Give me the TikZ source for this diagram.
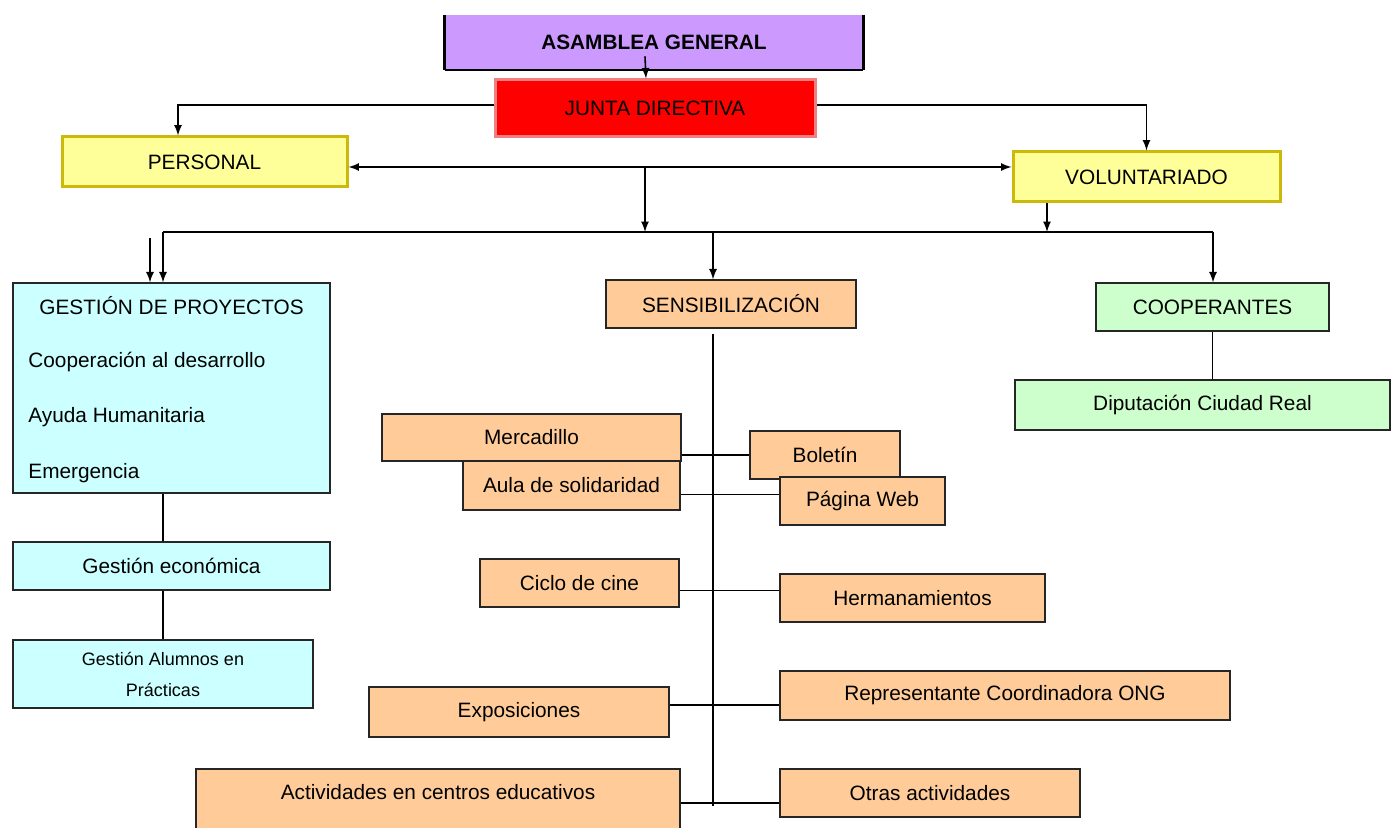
\documentclass[tikz,border=0pt]{standalone}
\usepackage{fontspec}
\setmainfont{Liberation Sans}
\definecolor{asamPurple}{HTML}{CC99FF}
\definecolor{juntaRed}{HTML}{FF0000}
\definecolor{juntaEdge}{HTML}{F08080}
\definecolor{staffYellow}{HTML}{FFFF99}
\definecolor{staffEdge}{HTML}{CDB90A}
\definecolor{projCyan}{HTML}{CCFFFF}
\definecolor{sensPeach}{HTML}{FFCC99}
\definecolor{coopGreen}{HTML}{CCFFCC}
\tikzset{
    boxSize/.style 2 args={minimum width=#1*0.5pt, minimum height=#2*0.5pt},
    orgText/.style={font=\fontsize{10.4}{12.5}\selectfont},
    orgBox/.style={draw=black!85, line width=0.6pt, inner sep=0pt, orgText},
    staffBox/.style={draw=staffEdge, line width=1.5pt, fill=staffYellow, inner sep=0pt, orgText},
    projBox/.style={orgBox, fill=projCyan},
    sensBox/.style={orgBox, fill=sensPeach},
    coopBox/.style={orgBox, fill=coopGreen},
    link/.style={line width=0.8pt}
}
\begin{document}
\begin{tikzpicture}[x=0.5pt,y=-0.5pt,>=latex]
		\useasboundingbox (0,0) rectangle (1392,828);
		% governing bodies
		\node[fill=asamPurple, inner sep=0pt, boxSize={418}{55}, font=\fontsize{10.4}{12.5}\selectfont\bfseries] (asam) at (654,42.5) {ASAMBLEA GENERAL};
		\draw[line width=1.5pt] (asam.north west) -- (asam.south west);
		\draw[line width=1.5pt] (asam.north east) -- (asam.south east);
		\draw[line width=1pt] (asam.south west) -- (asam.south east);
		\node[fill=juntaRed, draw=juntaEdge, line width=1.5pt, inner sep=0pt, boxSize={320}{57}, orgText] (junta) at (655,108.5) {JUNTA DIRECTIVA};
		\node[staffBox, boxSize={285}{50}] (personal) at (204.5,162) {PERSONAL};
		\node[staffBox, boxSize={267}{50}] (volunt) at (1146.5,177) {VOLUNTARIADO};
		% areas
		\node[projBox, boxSize={317}{210}] (gest) at (171.5,388) {};
		\node[orgText, inner sep=0pt] (gestTitle) at (171.5,306) {GESTIÓN DE PROYECTOS};
		\node[orgText, inner sep=0pt, anchor=west] (gestCoop) at (28,362) {Cooperación al desarrollo};
		\node[orgText, inner sep=0pt, anchor=west] (gestAyuda) at (28,417) {Ayuda Humanitaria};
		\node[orgText, inner sep=0pt, anchor=west] (gestEmerg) at (28,473) {Emergencia};
		\node[projBox, boxSize={317}{48}] (econ) at (171.5,566) {Gestión económica};
		\node[projBox, boxSize={300}{68}, align=center, font=\fontsize{9}{15.5}\selectfont] (alumnos) at (163,674) {Gestión Alumnos en\\Prácticas};
		\node[sensBox, boxSize={250}{48}] (sens) at (731,304) {SENSIBILIZACIÓN};
		\node[coopBox, boxSize={233}{48}] (coop) at (1212.5,307) {COOPERANTES};
		\node[coopBox, boxSize={375}{50}] (diput) at (1202.5,405) {Diputación Ciudad Real};
		% activities
		\node[sensBox, boxSize={299}{47}] (merca) at (531.5,437.5) {Mercadillo};
		\node[sensBox, boxSize={217}{49}] (aula) at (571.5,485.5) {Aula de solidaridad};
		\node[sensBox, boxSize={150}{48}] (boletin) at (825,455) {Boletín};
		\node[sensBox, boxSize={165}{48}] (web) at (862.5,501) {Página Web};
		\node[sensBox, boxSize={199}{48}] (cine) at (579.5,583) {Ciclo de cine};
		\node[sensBox, boxSize={265}{48}] (herman) at (912.5,598) {Hermanamientos};
		\node[sensBox, boxSize={300}{50}] (expo) at (519,712) {Exposiciones};
		\node[sensBox, boxSize={450}{49}] (coordina) at (1005,695.5) {Representante Coordinadora ONG};
		\node[sensBox, boxSize={484}{70}, text depth=12pt] (centros) at (438,804) {Actividades en centros educativos};
		\node[sensBox, boxSize={300}{48}] (otras) at (930,793) {Otras actividades};
		% connectors
		\coordinate (hub) at (645,167);
		\coordinate (busL) at (163,232);
		\coordinate (busL2) at (150,238);
		\coordinate (busR) at (1213,232);
		\coordinate (spine) at (713,806);
		\draw[link,->] ([xshift=-4.5pt,yshift=7pt]asam.south) -- ([xshift=-4.5pt]junta.north);
		\draw[link,->] ([yshift=1.75pt]junta.west) -| ([xshift=-13.25pt]personal.north);
		\draw[link,->] ([yshift=1.75pt]junta.east) -| (volunt.north);
		\draw[link,<->] (personal.east |- hub) -- (volunt.west |- hub);
		\draw[link,->] (hub) -- (hub |- busL);
		\draw[link] (busL) -- (busR);
		\draw[link,->] ([xshift=-49.75pt]volunt.south) -- ([xshift=-49.75pt]volunt.south |- busL);
		\draw[link,->] (busL) -- (busL |- gest.north);
		\draw[link,->] (busL2) -- (busL2 |- gest.north);
		\draw[link,->] (spine |- busL) -- (spine |- sens.north);
		\draw[link,->] (busR) -- (busR |- coop.north);
		\draw[link] (gest.south -| busL) -- (econ.north -| busL);
		\draw[link] (econ.south -| busL) -- (alumnos.north);
		\draw[link] (coop.south) -- (coop.south |- diput.north);
		\draw[link] ([yshift=-2.5pt]sens.south -| spine) -- (spine);
		\draw[link] (boletin.west) -- (boletin.west -| merca.east);
		\draw[link] ([yshift=-4.5pt]aula.east) -- ([yshift=-4.5pt]aula.east -| web.west);
		\draw[link] ([yshift=-3.75pt]cine.east) -- ([yshift=-3.75pt]cine.east -| herman.west);
		\draw[link] ([yshift=3.5pt]expo.east) -- ([yshift=3.5pt]expo.east -| coordina.west);
		\draw[link] ([yshift=-5pt]otras.west) -- ([yshift=-5pt]otras.west -| centros.east);
\end{tikzpicture}
\end{document}
